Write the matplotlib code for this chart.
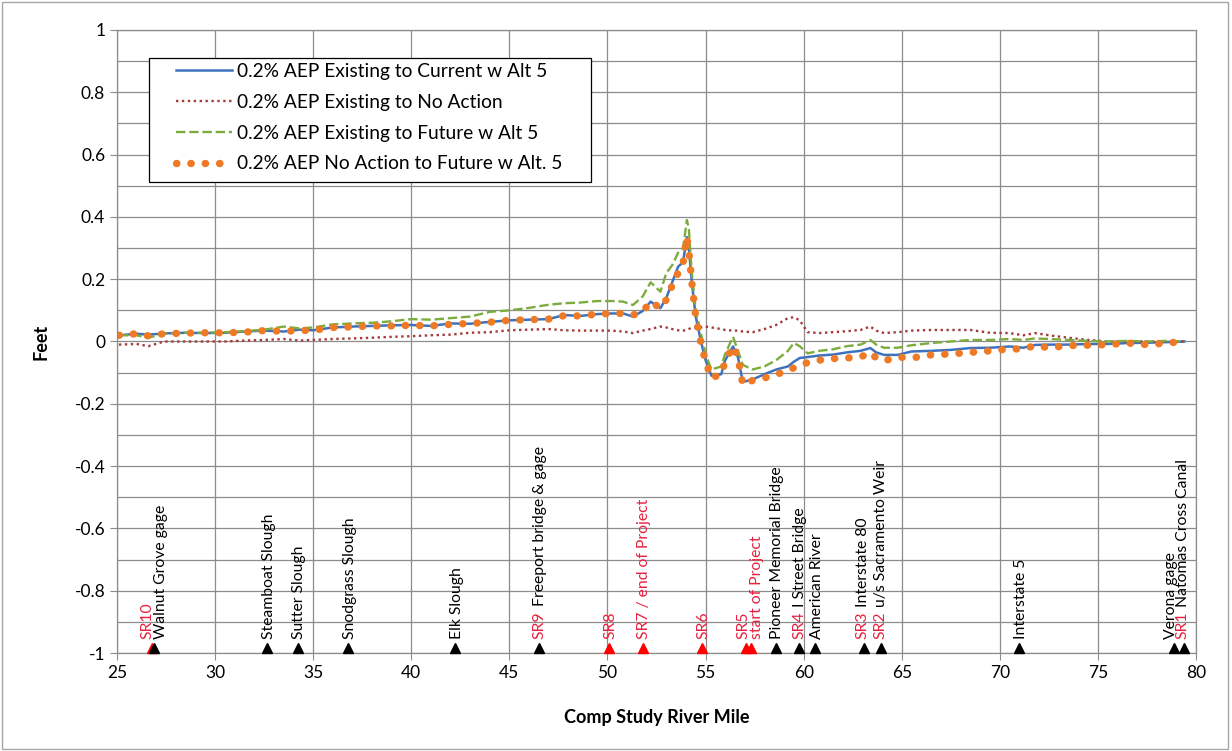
import matplotlib
matplotlib.use("Agg")
import matplotlib.pyplot as plt
from matplotlib.patches import Rectangle
from matplotlib.ticker import MultipleLocator, FuncFormatter

plt.rcParams['font.family'] = ['Lato', 'DejaVu Sans']

# river mile of each cross section
miles = [25.1, 26.0, 26.6, 27.4, 28.5, 29.5, 30.5, 31.5, 32.5, 33.5, 34.3, 35.0, 36.0, 37.0,
         38.0, 39.0, 40.0, 41.0, 42.0, 43.0, 44.0, 45.0, 46.0, 47.0, 47.8, 48.6, 49.5, 50.2,
         50.8, 51.3, 51.8, 52.2, 52.7, 53.0, 53.3, 53.6, 53.85, 54.05, 54.15, 54.3, 54.5, 54.75,
         55.0, 55.3, 55.8, 56.0, 56.4, 56.65, 56.9, 57.4, 58.0, 58.6, 59.2, 59.5, 59.8, 60.2,
         60.8, 61.5, 62.2, 62.9, 63.4, 63.7, 64.1, 64.8, 65.5, 66.5, 67.5, 68.5, 69.5, 70.5,
         71.2, 71.8, 72.5, 73.5, 74.5, 75.5, 76.5, 77.5, 78.5, 79.4]

current_alt5 = [0.02, 0.025, 0.022, 0.026, 0.028, 0.027, 0.028, 0.032, 0.035, 0.032, 0.038, 0.036,
                0.045, 0.048, 0.05, 0.052, 0.053, 0.05, 0.058, 0.057, 0.063, 0.068, 0.07, 0.072,
                0.085, 0.082, 0.088, 0.09, 0.09, 0.08, 0.098, 0.128, 0.107, 0.14, 0.19, 0.24,
                0.255, 0.335, 0.30, 0.19, 0.08, 0.005, -0.06, -0.11, -0.105, -0.06, -0.016, -0.05,
                -0.13, -0.122, -0.105, -0.09, -0.08, -0.065, -0.053, -0.05, -0.045, -0.042, -0.035,
                -0.03, -0.021, -0.035, -0.043, -0.043, -0.032, -0.03, -0.027, -0.021, -0.02, -0.016,
                -0.02, -0.011, -0.01, -0.01, -0.008, -0.008, -0.005, -0.004, -0.002, 0.0]

no_action = [-0.01, -0.008, -0.015, 0.0, 0.0, 0.0, 0.0, 0.003, 0.005, 0.008, 0.003, 0.005,
             0.008, 0.01, 0.012, 0.015, 0.017, 0.02, 0.022, 0.028, 0.03, 0.036, 0.038, 0.04,
             0.036, 0.035, 0.035, 0.035, 0.032, 0.027, 0.035, 0.04, 0.048, 0.045, 0.04, 0.036,
             0.035, 0.037, 0.04, 0.045, 0.045, 0.045, 0.048, 0.045, 0.04, 0.037, 0.035, 0.035,
             0.032, 0.03, 0.04, 0.053, 0.075, 0.078, 0.068, 0.03, 0.027, 0.03, 0.033, 0.037,
             0.048, 0.035, 0.027, 0.03, 0.035, 0.037, 0.037, 0.037, 0.028, 0.027, 0.02, 0.027,
             0.02, 0.012, 0.005, 0.0, 0.0, 0.0, 0.0, 0.0]

future_alt5 = [0.02, 0.02, 0.012, 0.025, 0.028, 0.028, 0.03, 0.033, 0.038, 0.048, 0.042, 0.045,
               0.055, 0.058, 0.06, 0.065, 0.072, 0.07, 0.075, 0.08, 0.095, 0.1, 0.108, 0.118,
               0.123, 0.125, 0.13, 0.13, 0.128, 0.117, 0.145, 0.19, 0.16, 0.22, 0.245, 0.285,
               0.30, 0.39, 0.36, 0.22, 0.1, 0.03, -0.04, -0.09, -0.08, -0.04, 0.015, -0.03,
               -0.075, -0.09, -0.08, -0.06, -0.03, -0.005, -0.015, -0.038, -0.03, -0.025, -0.015,
               -0.01, 0.005, -0.01, -0.02, -0.02, -0.012, -0.005, 0.0, 0.005, 0.005, 0.008,
               0.005, 0.01, 0.008, 0.005, 0.002, 0.0, 0.002, 0.0, 0.002, 0.0]

na_to_future = [0.02, 0.025, 0.018, 0.025, 0.027, 0.028, 0.028, 0.03, 0.035, 0.033, 0.035, 0.036,
                0.045, 0.047, 0.05, 0.05, 0.052, 0.05, 0.055, 0.058, 0.062, 0.068, 0.07, 0.072,
                0.083, 0.082, 0.088, 0.09, 0.09, 0.085, 0.096, 0.128, 0.107, 0.134, 0.18, 0.22,
                0.25, 0.335, 0.29, 0.19, 0.08, 0.0, -0.065, -0.117, -0.105, -0.065, -0.015, -0.05,
                -0.138, -0.125, -0.117, -0.107, -0.09, -0.085, -0.075, -0.068, -0.06, -0.055,
                -0.053, -0.05, -0.035, -0.053, -0.062, -0.05, -0.053, -0.043, -0.04, -0.035,
                -0.03, -0.024, -0.024, -0.013, -0.02, -0.013, -0.012, -0.01, -0.005, -0.01,
                -0.005, 0.0]

series_names = ["0.2% AEP Existing to Current w Alt 5",
                "0.2% AEP Existing to No Action",
                "0.2% AEP Existing to Future w Alt 5",
                "0.2% AEP No Action to Future w Alt. 5"]

# landmarks along the river: mile, triangle colour
site_miles = [26.77, 26.9, 32.67, 34.25, 36.8, 42.24, 46.5, 50.1, 51.8, 54.83, 57.04, 57.3,
              58.57, 59.76, 60.58, 63.08, 63.93, 70.98, 78.9, 79.4]
site_red = [True, False, False, False, False, False, False, True, True, True, True, True,
            False, False, False, False, False, False, False, False]

# label columns: x position, red part, black part
label_x = [26.55, 27.23, 32.77, 34.29, 36.89, 42.33, 46.55, 50.15, 51.85, 54.88, 56.95, 57.63,
           58.66, 59.81, 60.7, 63.02, 63.93, 71.07, 78.72, 79.32]
label_red = ["SR10", "", "", "", "", "", "SR9", "SR8", "SR7 / end of Project", "SR6", "SR5",
             "start of Project", "", "SR4", "", "SR3", "SR2", "", "", "SR1"]
label_black = ["", "Walnut Grove gage", "Steamboat Slough", "Sutter Slough", "Snodgrass Slough",
               "Elk Slough", "Freeport bridge & gage", "", "", "", "", "",
               "Pioneer Memorial Bridge", "I Street Bridge", "American River", "Interstate 80",
               "u/s Sacramento Weir", "Interstate 5", "Verona gage", "Natomas Cross Canal"]

W, H = 1232, 751
fig = plt.figure(figsize=(W / 100, H / 100), dpi=100)
fig.patches.append(Rectangle((0.002, 0.003), 0.995, 0.994, transform=fig.transFigure,
                             fill=False, edgecolor='#a6a6a6', linewidth=1))
ax = fig.add_axes([117 / W, 1 - 653 / H, (1196 - 117) / W, (653 - 30) / H])

ax.plot(miles, current_alt5, color='#3f72be', lw=1.8, label=series_names[0])
ax.plot(miles, no_action, color='#a33a3a', lw=1.7, ls=(0, (1, 1.5)), label=series_names[1])
ax.plot(miles, future_alt5, color='#7dac3e', lw=1.7, ls=(0, (4, 1.6)), label=series_names[2])
ax.plot(miles, na_to_future, color='#ee7a26', lw=5.3, ls=(0, (0.05, 1.9)),
        dash_capstyle='round', label=series_names[3])

for m, r in zip(site_miles, site_red):
    ax.plot(m, -0.985, marker='^', ms=6.5, color='#ff0000' if r else 'black',
            mec='#ff0000' if r else 'black', clip_on=False, zorder=5)

red_txt = '#e8213f'
y0 = -0.955
renderer = fig.canvas.get_renderer()
for x, red, black in zip(label_x, label_red, label_black):
    off = 0
    if red:
        t = ax.text(x, y0, red, rotation=90, ha='center', va='bottom', color=red_txt,
                    fontsize=11.3)
        if black:
            off = t.get_window_extent(renderer).height * 72 / fig.dpi + 3.5
    if black:
        ax.annotate(black, xy=(x, y0), xytext=(0, off), textcoords='offset points',
                    rotation=90, ha='center', va='bottom', color='black', fontsize=11.3)

ax.set_xlim(25, 80)
ax.set_ylim(-1, 1)
ax.xaxis.set_major_locator(MultipleLocator(5))
ax.yaxis.set_major_locator(MultipleLocator(0.2))
ax.yaxis.set_minor_locator(MultipleLocator(0.1))
ax.yaxis.set_major_formatter(FuncFormatter(lambda v, p: f"{round(v, 1):g}" if abs(v) > 1e-9 else "0"))
ax.grid(which='both', color='#8c8c8c', lw=0.9)
ax.tick_params(which='major', direction='out', length=5, color='#8c8c8c', labelsize=12.5)
ax.tick_params(which='minor', length=0)
ax.set_axisbelow(True)
for s in ax.spines.values():
    s.set_color('#8c8c8c')
    s.set_linewidth(0.9)

ax.set_xlabel("Comp Study River Mile", fontsize=13, fontweight='bold', labelpad=20)
ax.set_ylabel("Feet", fontsize=13, fontweight='bold', labelpad=18)

# legend box drawn separately so its padding matches the wide Excel frame
ax.add_patch(Rectangle((32 / 1079, (653 - 182) / 623), 442 / 1079, 124 / 623,
                       transform=ax.transAxes, facecolor='white', edgecolor='black',
                       linewidth=0.9, zorder=4))
leg = ax.legend(loc='upper left', bbox_to_anchor=((176 - 117) / 1079, (653 - 63) / 623),
                fontsize=13.8, frameon=False, handlelength=2.9, borderpad=0,
                labelspacing=0.72, handletextpad=0.3, borderaxespad=0)
leg.set_zorder(5)

fig.savefig("out.png", dpi=100)
